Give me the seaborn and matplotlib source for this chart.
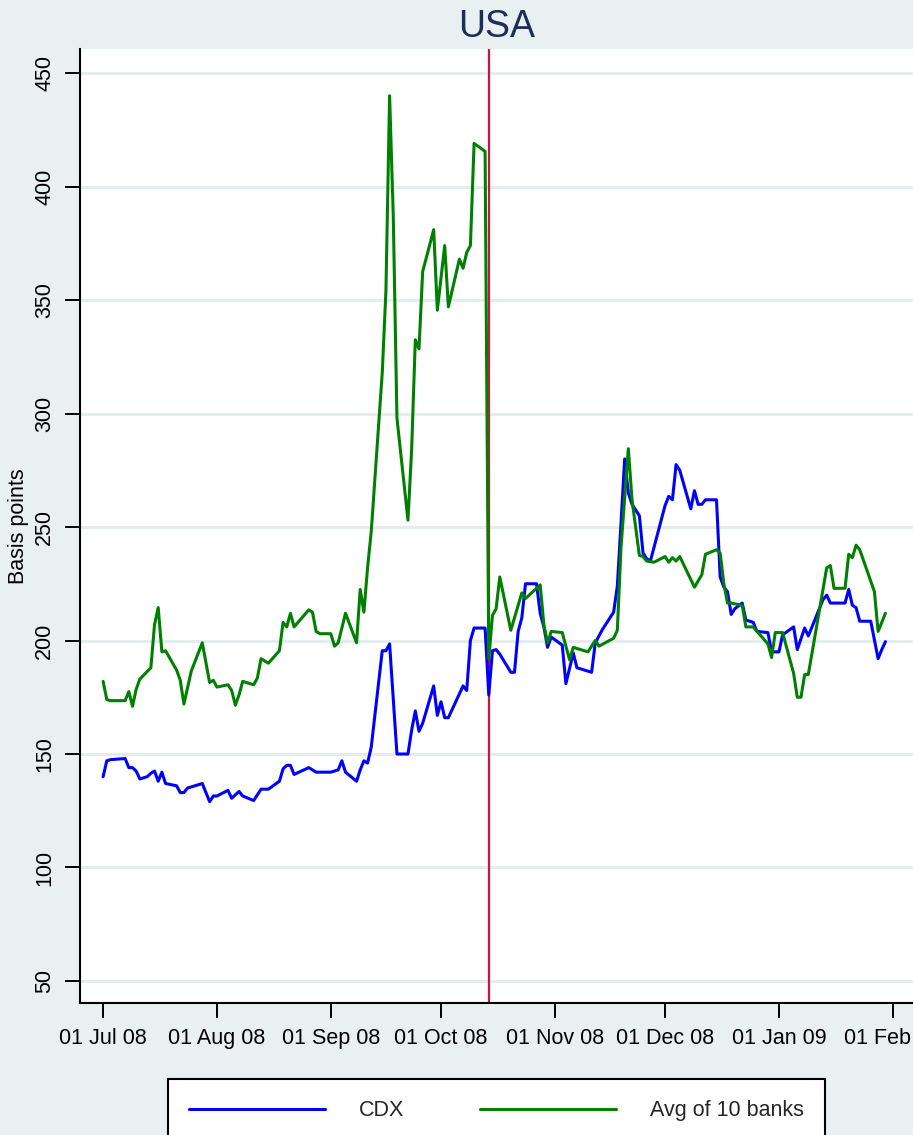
import matplotlib
matplotlib.use("Agg")
import matplotlib.pyplot as plt
import matplotlib.dates as mdates
from matplotlib.lines import Line2D
import pandas as pd
import seaborn as sns

# ---- data -------------------------------------------------------------
title_text = "USA"
y_label = "Basis points"
series_names = ["CDX", "Avg of 10 banks"]
event_date = "2008-10-14"
y_ticks = [50, 100, 150, 200, 250, 300, 350, 400, 450]

cdx_dates = [
    "2008-07-01", "2008-07-02", "2008-07-03", "2008-07-07", "2008-07-08", "2008-07-09",
    "2008-07-10", "2008-07-11", "2008-07-13", "2008-07-14", "2008-07-15", "2008-07-16",
    "2008-07-17", "2008-07-18", "2008-07-21", "2008-07-22", "2008-07-23", "2008-07-24",
    "2008-07-28", "2008-07-30", "2008-07-31", "2008-08-01", "2008-08-04", "2008-08-05",
    "2008-08-07", "2008-08-08", "2008-08-11", "2008-08-13", "2008-08-15", "2008-08-18",
    "2008-08-19", "2008-08-20", "2008-08-21", "2008-08-22", "2008-08-26", "2008-08-28",
    "2008-09-01", "2008-09-03", "2008-09-04", "2008-09-05", "2008-09-08", "2008-09-09",
    "2008-09-10", "2008-09-11", "2008-09-12", "2008-09-15", "2008-09-16", "2008-09-17",
    "2008-09-19", "2008-09-22", "2008-09-23", "2008-09-24", "2008-09-25", "2008-09-26",
    "2008-09-29", "2008-09-30", "2008-10-01", "2008-10-02", "2008-10-03", "2008-10-07",
    "2008-10-08", "2008-10-09", "2008-10-10", "2008-10-13", "2008-10-14", "2008-10-15",
    "2008-10-16", "2008-10-17", "2008-10-20", "2008-10-21", "2008-10-22", "2008-10-23",
    "2008-10-24", "2008-10-27", "2008-10-28", "2008-10-29", "2008-10-30", "2008-10-31",
    "2008-11-03", "2008-11-04", "2008-11-06", "2008-11-07", "2008-11-11", "2008-11-12",
    "2008-11-14", "2008-11-17", "2008-11-18", "2008-11-19", "2008-11-20", "2008-11-21",
    "2008-11-22", "2008-11-24", "2008-11-25", "2008-11-26", "2008-11-27", "2008-12-01",
    "2008-12-02", "2008-12-03", "2008-12-04", "2008-12-05", "2008-12-08", "2008-12-09",
    "2008-12-10", "2008-12-11", "2008-12-12", "2008-12-15", "2008-12-16", "2008-12-17",
    "2008-12-18", "2008-12-19", "2008-12-20", "2008-12-22", "2008-12-23", "2008-12-25",
    "2008-12-26", "2008-12-29", "2008-12-30", "2009-01-01", "2009-01-02", "2009-01-05",
    "2009-01-06", "2009-01-08", "2009-01-09", "2009-01-13", "2009-01-14", "2009-01-15",
    "2009-01-19", "2009-01-20", "2009-01-21", "2009-01-22", "2009-01-23", "2009-01-26",
    "2009-01-28", "2009-01-29", "2009-01-30",
]
cdx_values = [
    140, 147, 147.5, 148, 144, 144,
    142.5, 139, 140, 141.5, 142.5, 138,
    142, 137, 136, 133, 133, 135,
    137, 129, 131.5, 131.5, 134, 130.5,
    133.5, 131.5, 129.5, 134.5, 134.5, 138,
    143.5, 145, 145, 141, 144, 142,
    142, 143, 147, 142, 138, 143,
    147, 146, 153, 195.5, 195.5, 198.5,
    150, 150, 160.5, 169, 160, 163.5,
    180, 167, 173, 166, 166, 180,
    178, 200, 205.5, 205.5, 176, 195.5,
    196, 194, 186, 186, 204, 210,
    225, 225, 212, 206, 197, 201.5,
    198, 181, 194.5, 188, 186, 199,
    205, 212.5, 224, 251.5, 280, 265,
    260, 255, 238.5, 236, 235, 259.5,
    263.5, 262, 277.5, 275, 258, 266,
    260, 260, 262, 262, 228, 223.5,
    221.5, 211.5, 214, 216.5, 209, 208,
    204, 203.5, 195, 195, 202.5, 206,
    196, 205.5, 202, 218, 220, 216.5,
    216.5, 222.5, 215.5, 214.5, 208.5, 208.5,
    192, 196, 199.5,
]

bank_dates = [
    "2008-07-01", "2008-07-02", "2008-07-03", "2008-07-07", "2008-07-08", "2008-07-09",
    "2008-07-10", "2008-07-11", "2008-07-14", "2008-07-15", "2008-07-16", "2008-07-17",
    "2008-07-18", "2008-07-21", "2008-07-22", "2008-07-23", "2008-07-25", "2008-07-28",
    "2008-07-30", "2008-07-31", "2008-08-01", "2008-08-04", "2008-08-05", "2008-08-06",
    "2008-08-07", "2008-08-08", "2008-08-11", "2008-08-12", "2008-08-13", "2008-08-15",
    "2008-08-18", "2008-08-19", "2008-08-20", "2008-08-21", "2008-08-22", "2008-08-26",
    "2008-08-27", "2008-08-28", "2008-08-29", "2008-09-01", "2008-09-02", "2008-09-03",
    "2008-09-05", "2008-09-08", "2008-09-09", "2008-09-10", "2008-09-11", "2008-09-12",
    "2008-09-15", "2008-09-16", "2008-09-17", "2008-09-18", "2008-09-19", "2008-09-22",
    "2008-09-23", "2008-09-24", "2008-09-25", "2008-09-26", "2008-09-29", "2008-09-30",
    "2008-10-02", "2008-10-03", "2008-10-06", "2008-10-07", "2008-10-08", "2008-10-09",
    "2008-10-10", "2008-10-13", "2008-10-14", "2008-10-15", "2008-10-16", "2008-10-17",
    "2008-10-20", "2008-10-21", "2008-10-23", "2008-10-24", "2008-10-28", "2008-10-29",
    "2008-10-30", "2008-10-31", "2008-11-03", "2008-11-05", "2008-11-06", "2008-11-10",
    "2008-11-12", "2008-11-13", "2008-11-17", "2008-11-18", "2008-11-19", "2008-11-21",
    "2008-11-22", "2008-11-24", "2008-11-25", "2008-11-26", "2008-11-28", "2008-12-01",
    "2008-12-02", "2008-12-03", "2008-12-04", "2008-12-05", "2008-12-09", "2008-12-11",
    "2008-12-12", "2008-12-15", "2008-12-16", "2008-12-17", "2008-12-18", "2008-12-19",
    "2008-12-22", "2008-12-23", "2008-12-25", "2008-12-29", "2008-12-30", "2008-12-31",
    "2009-01-02", "2009-01-05", "2009-01-06", "2009-01-07", "2009-01-08", "2009-01-09",
    "2009-01-14", "2009-01-15", "2009-01-16", "2009-01-19", "2009-01-20", "2009-01-21",
    "2009-01-22", "2009-01-23", "2009-01-27", "2009-01-28", "2009-01-30",
]
bank_values = [
    182, 174, 173.5, 173.5, 177.5, 171,
    178.5, 183, 188, 207, 214.5, 195,
    195.5, 187, 182.5, 172, 186.5, 199,
    181.5, 182.5, 179.5, 180.5, 178, 171.5,
    176, 182, 180.5, 183.5, 192, 190,
    195.5, 208, 206, 212, 206, 213.5,
    212.5, 204, 203, 203, 197.5, 199,
    212, 199, 222.5, 212.5, 232, 248,
    318, 354, 440, 387, 298, 253,
    284, 332.5, 328.5, 362.5, 381, 345.5,
    374, 347, 368, 364, 371, 374,
    419, 415.5, 192, 211, 214, 228,
    204.5, 210, 221, 218.5, 224.5, 207,
    199, 204, 203.5, 191.5, 197, 195,
    200, 197.5, 201, 204.5, 241, 284.5,
    262, 237.5, 237, 235, 234.5, 237,
    234.5, 236.5, 235, 237, 223.5, 229,
    238, 240, 238.5, 225, 216.5, 216.5,
    215.5, 206, 206, 198.5, 192.5, 203.5,
    203.5, 185.5, 175, 175, 185, 185,
    232, 233, 223, 223, 238, 236.5,
    242, 240, 221.5, 204, 212,
]

# ---- styling ------------------------------------------------------------
sns.set_style("ticks")
plt.rcParams["font.family"] = ["Liberation Sans", "DejaVu Sans"]

BG = "#E8F0F2"
GRID = "#E4ECEF"
COLORS = {series_names[0]: "#0000FF", series_names[1]: "#008000"}
FS = 15.5

W, H = 913, 1135
fig = plt.figure(figsize=(W / 100, H / 100), dpi=100, facecolor=BG)
ax = fig.add_axes([80 / W, 132 / H, 833 / W, 954 / H], facecolor="white")

frame = pd.concat([
    pd.DataFrame({"date": pd.to_datetime(cdx_dates), "value": cdx_values,
                  "series": series_names[0]}),
    pd.DataFrame({"date": pd.to_datetime(bank_dates), "value": bank_values,
                  "series": series_names[1]}),
], ignore_index=True)

ax.axvline(pd.Timestamp(event_date), color="#C8173E", linewidth=1.6, zorder=1.5)

sns.lineplot(data=frame, x="date", y="value", hue="series", hue_order=series_names,
             palette=COLORS, linewidth=2.2, estimator=None, legend=False, ax=ax,
             zorder=2)

# axes ranges and ticks
ax.set_xlim(pd.Timestamp("2008-06-24 17:00"), pd.Timestamp("2009-02-06 12:00"))
ax.set_ylim(40.3, 460.6)
ax.set_yticks(y_ticks)
ax.xaxis.set_major_locator(mdates.MonthLocator(bymonthday=1))
ax.xaxis.set_major_formatter(mdates.DateFormatter("%d %b %y"))

ax.tick_params(axis="both", direction="out", length=11, width=1.4, color="black",
               labelsize=FS, labelcolor="black")
ax.tick_params(axis="x", pad=7)
ax.tick_params(axis="y", pad=7)
plt.setp(ax.get_yticklabels(), rotation=90, va="center")

ax.yaxis.grid(True, color=GRID, linewidth=2.2)
ax.xaxis.grid(False)
ax.set_axisbelow(True)

for side in ("top", "right"):
    ax.spines[side].set_visible(False)
for side in ("left", "bottom"):
    ax.spines[side].set_color("black")
    ax.spines[side].set_linewidth(1.5)

ax.set_xlabel("")
ax.set_ylabel(y_label, fontsize=FS, color="black")
ax.yaxis.label.set_verticalalignment("center")
ax.yaxis.set_label_coords(-0.0738, 0.5)

fig.text((80 + W) / 2 / W, 1 - 37 / H, title_text, fontsize=27, color="#1F2D5A",
         ha="center", va="baseline")

handles = [Line2D([], [], color=COLORS[n], linewidth=2.2) for n in series_names]
leg = fig.legend(handles, series_names, loc="upper center",
                 bbox_to_anchor=((80 + W) / 2 / W, 1 - 1068 / H), ncol=2,
                 frameon=True, fancybox=False, edgecolor="black", facecolor="white",
                 framealpha=1, fontsize=FS, handlelength=6.3, handletextpad=1.6,
                 columnspacing=3.5, borderpad=1.0)
leg.get_frame().set_linewidth(1.5)

fig.savefig("out.png", dpi=100, facecolor=BG)
